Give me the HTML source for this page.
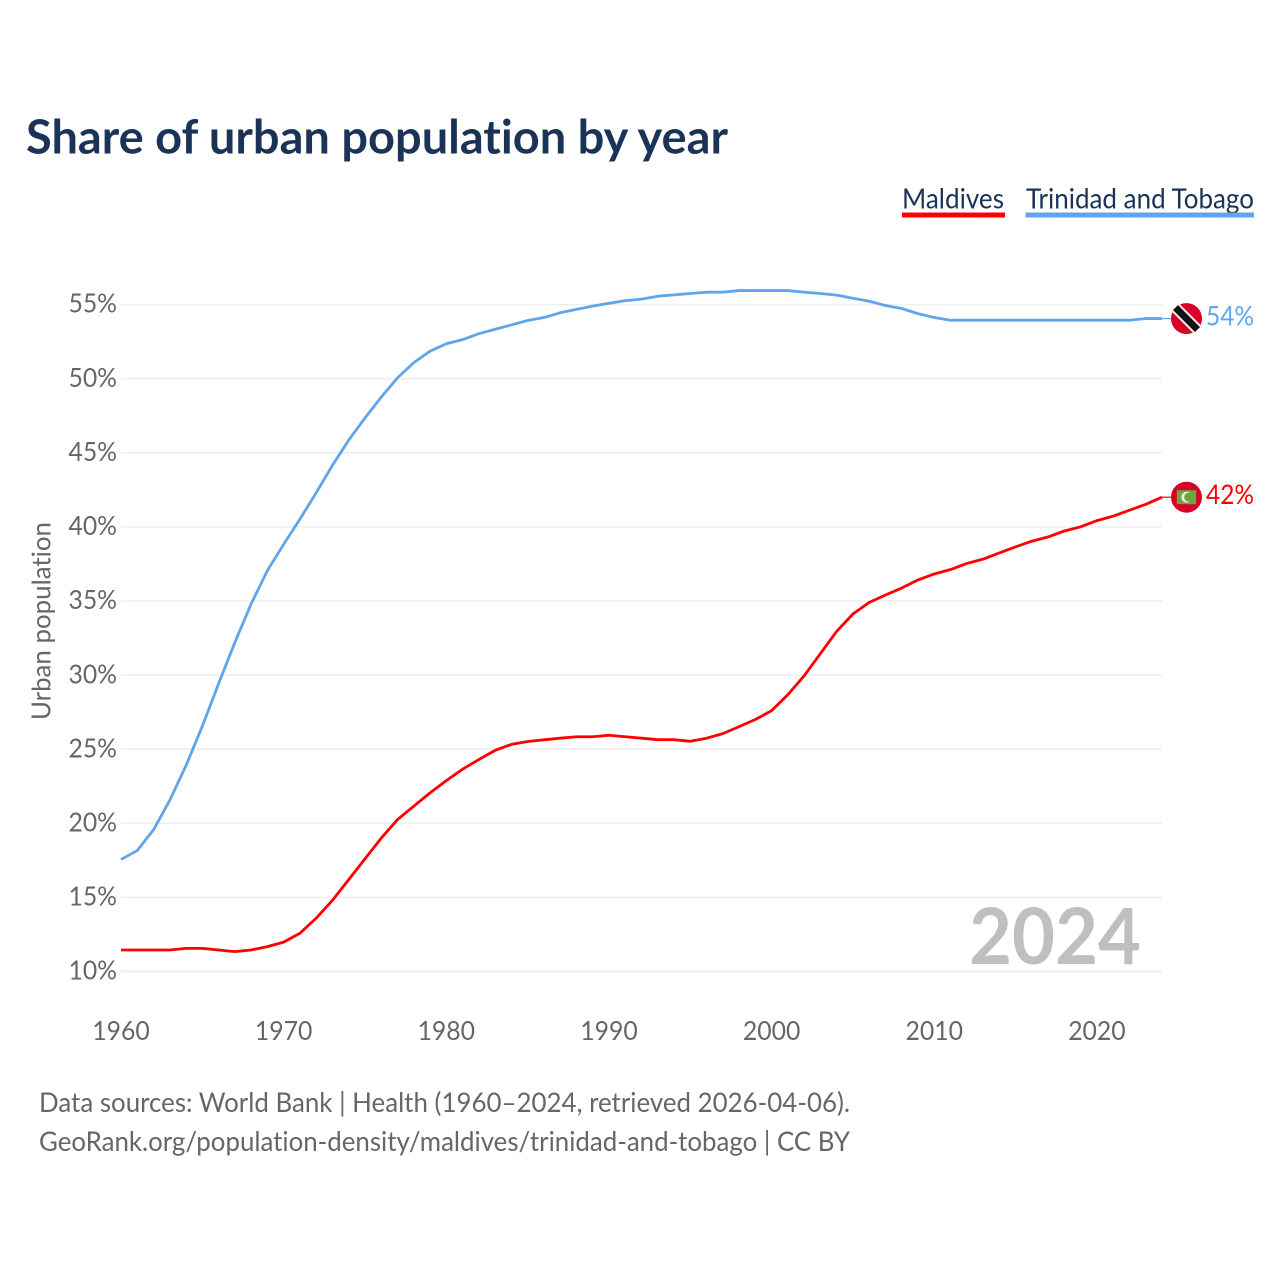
<!DOCTYPE html>
<html lang="en">
<head>
<meta charset="utf-8">
<title>Share of urban population by year</title>
<style>
  html, body { margin: 0; padding: 0; background: #fff; }
  svg { display: block; }
  text { font-family: "Lato", "Carlito", "Liberation Sans", sans-serif; font-variant-ligatures: none; }
</style>
</head>
<body>
<svg id="chart" xmlns="http://www.w3.org/2000/svg" width="1280" height="1280" viewBox="0 0 1280 1280">
  <rect x="0" y="0" width="1280" height="1280" fill="#ffffff"/>
  <text x="26" y="153.5" font-size="47" font-weight="700" fill="#1a3357" textLength="702" lengthAdjust="spacingAndGlyphs">Share of urban population by year</text>

  <g>
    <text x="902" y="208.5" font-size="28" fill="#1a3357" textLength="102" lengthAdjust="spacingAndGlyphs">Maldives</text>
    <rect x="902" y="212.5" width="103" height="5" fill="#ff0000"/>
  </g>
  <g>
    <text x="1026" y="208.5" font-size="28" fill="#1a3357" textLength="228" lengthAdjust="spacingAndGlyphs">Trinidad and Tobago</text>
    <rect x="1025.5" y="212.5" width="228.5" height="5" fill="#60a5ec"/>
  </g>

  <text transform="translate(50.5,720) rotate(-90)" x="0" y="0" font-size="26" fill="#666666" textLength="198" lengthAdjust="spacingAndGlyphs">Urban population</text>

  <g id="grid"></g>
  <g id="y-ticks"></g>
  <g id="x-ticks"></g>

  <text x="969" y="964" font-size="78" font-weight="700" fill="#bfbfbf" textLength="172" lengthAdjust="spacingAndGlyphs">2024</text>

  <g id="series"></g>
  <g id="markers"></g>

  <text x="39" y="1112" font-size="27" fill="#666666" textLength="811" lengthAdjust="spacingAndGlyphs">Data sources: World Bank | Health (1960–2024, retrieved 2026-04-06).</text>
  <text x="39" y="1151" font-size="27" fill="#666666" textLength="811" lengthAdjust="spacingAndGlyphs">GeoRank.org/population-density/maldives/trinidad-and-tobago | CC BY</text>
</svg>

<script>
const startYear = 1960;
const xTickYears = [1960, 1970, 1980, 1990, 2000, 2010, 2020];
const yTickValues = [10, 15, 20, 25, 30, 35, 40, 45, 50, 55];
const maldivesValues = [
  11.45, 11.45, 11.45, 11.45, 11.56, 11.56, 11.45, 11.34, 11.45, 11.68,
  11.98, 12.58, 13.6, 14.8, 16.2, 17.6, 19.0, 20.25, 21.15, 22.05,
  22.88, 23.65, 24.3, 24.92, 25.32, 25.52, 25.63, 25.74, 25.84, 25.84,
  25.94, 25.84, 25.74, 25.64, 25.64, 25.53, 25.74, 26.05, 26.52, 27.0,
  27.6, 28.68, 29.95, 31.45, 32.95, 34.12, 34.9, 35.4, 35.87, 36.42,
  36.82, 37.12, 37.53, 37.82, 38.24, 38.65, 39.03, 39.32, 39.72, 40.0,
  40.42, 40.72, 41.12, 41.52, 42.0
];
const trinidadValues = [
  17.56, 18.16, 19.56, 21.56, 23.9, 26.55, 29.42, 32.2, 34.8, 37.05,
  38.82, 40.52, 42.3, 44.15, 45.85, 47.35, 48.75, 50.05, 51.08, 51.85,
  52.35, 52.63, 53.03, 53.33, 53.62, 53.92, 54.12, 54.44, 54.67, 54.89,
  55.08, 55.26, 55.36, 55.56, 55.65, 55.74, 55.83, 55.83, 55.94, 55.94,
  55.94, 55.94, 55.83, 55.74, 55.63, 55.42, 55.22, 54.93, 54.73, 54.38,
  54.12, 53.94, 53.94, 53.94, 53.94, 53.94, 53.94, 53.94, 53.94, 53.94,
  53.94, 53.94, 53.94, 54.05, 54.05
];

const NS = 'http://www.w3.org/2000/svg';
const plotLeft = 121, plotRight = 1162;
const lastYear = startYear + maldivesValues.length - 1;
function xScale(year) { return plotLeft + (year - startYear) * (plotRight - plotLeft) / (lastYear - startYear); }
function yScale(v) { return 971.5 - (v - 10) * (971.5 - 304.5) / 45; }
function make(tag, attrs, parent) {
  const el = document.createElementNS(NS, tag);
  for (const k in attrs) el.setAttribute(k, attrs[k]);
  parent.appendChild(el);
  return el;
}
const grid = document.getElementById('grid');
const yTicks = document.getElementById('y-ticks');
const xTicks = document.getElementById('x-ticks');
const series = document.getElementById('series');
const markers = document.getElementById('markers');

yTickValues.forEach(function (v) {
  const line = make('line', { x1: plotLeft, x2: plotRight, y1: yScale(v), y2: yScale(v), stroke: '#eeeeee', 'stroke-width': 1.5 }, grid);
  
  
  const t = make('text', { x: 117, y: yScale(v) + 8.2, 'text-anchor': 'end', 'font-size': 26, fill: '#666666', textLength: 48.5, lengthAdjust: 'spacingAndGlyphs' }, yTicks);
  
  
  t.textContent = v + '%';
});

xTickYears.forEach(function (year) {
  const t = make('text', { x: xScale(year), y: 1040, 'text-anchor': 'middle', 'font-size': 26, fill: '#666666', textLength: 57.5, lengthAdjust: 'spacingAndGlyphs' }, xTicks);
  
  
  t.textContent = year;
});

function linePoints(values) {
  return values.map(function (v, i) { return xScale(startYear + i).toFixed(2) + ',' + yScale(v).toFixed(2); }).join(' ');
}

const trinidadLine = make('polyline', { points: linePoints(trinidadValues), fill: 'none', stroke: '#60a5ec', 'stroke-width': 2.8, 'stroke-linejoin': 'round' }, series);


const maldivesLine = make('polyline', { points: linePoints(maldivesValues), fill: 'none', stroke: '#ff0000', 'stroke-width': 2.8, 'stroke-linejoin': 'round' }, series);



/* Trinidad and Tobago end marker */
const tY = yScale(trinidadValues[trinidadValues.length - 1]);
const tLead = make('line', { x1: plotRight, x2: 1172, y1: tY, y2: tY, stroke: '#60a5ec', 'stroke-width': 1.2 }, markers);


const tFlag = make('g', { transform: 'translate(1186.5,' + tY + ')' }, markers);


make('circle', { r: 15.5, fill: '#d80027' }, tFlag);
make('line', { x1: -11, y1: -11, x2: 11, y2: 11, stroke: '#eeeeee', 'stroke-width': 11 }, tFlag);
make('line', { x1: -11, y1: -11, x2: 11, y2: 11, stroke: '#111111', 'stroke-width': 7 }, tFlag);
const tLabel = make('text', { x: 1206, y: tY + 7, 'font-size': 27, fill: '#60a5ec', textLength: 48, lengthAdjust: 'spacingAndGlyphs' }, markers);


tLabel.textContent = Math.round(trinidadValues[trinidadValues.length - 1]) + '%';

/* Maldives end marker */
const mY = yScale(maldivesValues[maldivesValues.length - 1]);
const mLead = make('line', { x1: plotRight, x2: 1172, y1: mY, y2: mY, stroke: '#ff0000', 'stroke-width': 1.2 }, markers);


const mFlag = make('g', { transform: 'translate(1186.5,' + mY + ')' }, markers);


make('circle', { r: 15.5, fill: '#d80027' }, mFlag);
make('rect', { x: -9.7, y: -7, width: 19.4, height: 14, fill: '#6da544' }, mFlag);
make('circle', { cx: 0.3, cy: 0, r: 5.4, fill: '#eeeeee' }, mFlag);
make('circle', { cx: 2.3, cy: 0, r: 4.6, fill: '#6da544' }, mFlag);
const mLabel = make('text', { x: 1206, y: mY + 7, 'font-size': 27, fill: '#ff0000', textLength: 48, lengthAdjust: 'spacingAndGlyphs' }, markers);


mLabel.textContent = Math.round(maldivesValues[maldivesValues.length - 1]) + '%';
</script>
</body>
</html>
